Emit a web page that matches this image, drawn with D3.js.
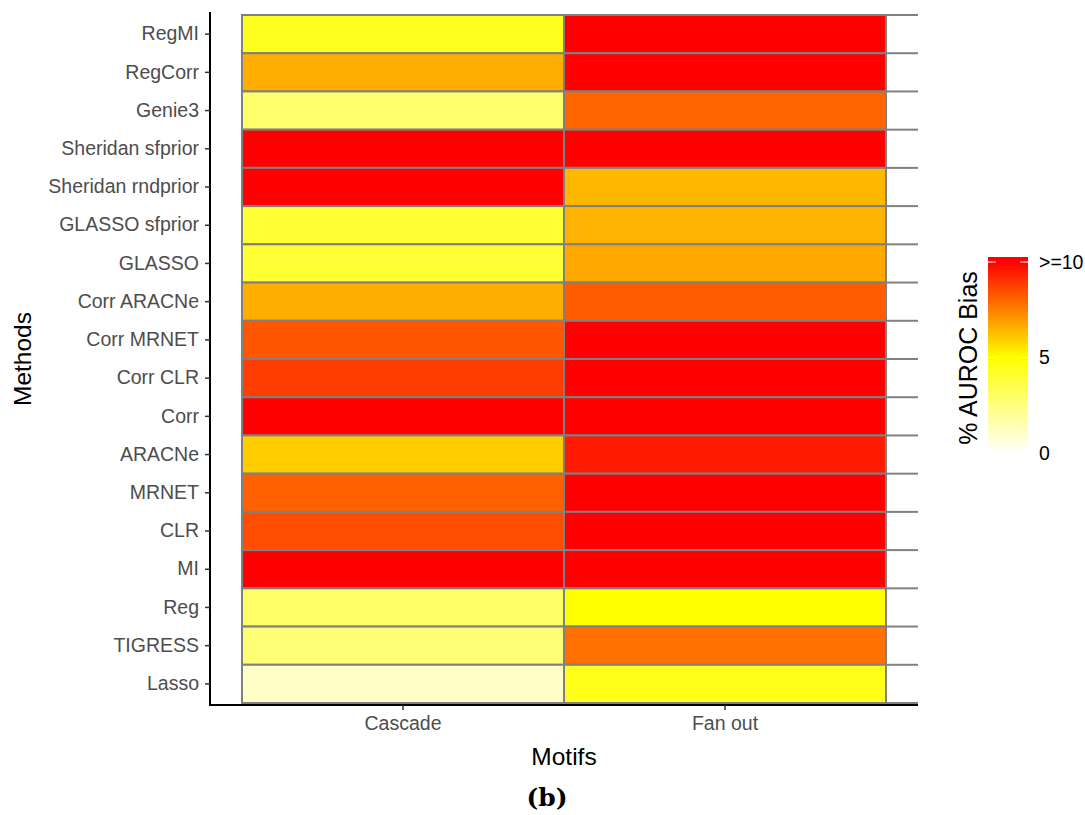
<!DOCTYPE html>
<html>
<head>
<meta charset="utf-8">
<script src="https://cdn.jsdelivr.net/npm/d3@7"></script>
<style>
  body { margin: 0; background: #fff; }
  svg { font-family: "Liberation Sans", Arial, sans-serif; }
</style>
</head>
<body>
<div id="chart"></div>
<script>
var methods = ['RegMI', 'RegCorr', 'Genie3', 'Sheridan sfprior', 'Sheridan rndprior', 'GLASSO sfprior',
  'GLASSO', 'Corr ARACNe', 'Corr MRNET', 'Corr CLR', 'Corr', 'ARACNe', 'MRNET', 'CLR', 'MI',
  'Reg', 'TIGRESS', 'Lasso'];
var motifs = ['Cascade', 'Fan out'];
// % AUROC bias, values above 10 are capped at 10
var cascade = [4.4, 6.6, 2.9, 10, 10, 4.0, 4.0, 6.6, 8.3, 8.8, 10, 6.0, 8.1, 8.5, 10, 3.0, 2.7, 1.1];
var fanout = [10, 10, 8.0, 10, 6.4, 6.5, 6.7, 8.2, 10, 10, 10, 9.5, 10, 10, 10, 5.0, 7.8, 4.5];
var legendTicks = [0, 5, 10];
var legendLabels = ['0', '5', '>=10'];

var width = 1085, height = 815;
var svg = d3.select('#chart').append('svg').attr('width', width).attr('height', height);

var x = d3.scaleBand().domain(motifs).range([242, 886]);
var y = d3.scaleBand().domain(methods).range([15, 703]);
var color = d3.scaleLinear().domain([0, 5, 10]).range(['#ffffff', '#ffff00', '#ff0000']).clamp(true);

var cells = [];
methods.forEach(function (m, i) {
  cells.push({ method: m, motif: motifs[0], value: cascade[i] });
  cells.push({ method: m, motif: motifs[1], value: fanout[i] });
});

// tiles
svg.append('g').selectAll('rect').data(cells).enter().append('rect')
  .attr('x', function (d) { return x(d.motif); })
  .attr('y', function (d) { return y(d.method); })
  .attr('width', x.bandwidth())
  .attr('height', y.bandwidth())
  .attr('fill', function (d) { return color(d.value); })
  .attr('stroke', '#808080')
  .attr('stroke-width', 2);

// row borders run on to the panel edge
var rowEdges = methods.map(function (m) { return y(m); }).concat([y.range()[1]]);
svg.append('g').selectAll('line').data(rowEdges).enter().append('line')
  .attr('x1', 886).attr('x2', 918)
  .attr('y1', function (d) { return d; }).attr('y2', function (d) { return d; })
  .attr('stroke', '#808080').attr('stroke-width', 2);

// axes
var yAxis = svg.append('g').attr('transform', 'translate(210,0)')
  .call(d3.axisLeft(y).tickSize(5).tickPadding(6));
yAxis.select('.domain').attr('d', 'M0,12V705').attr('stroke', '#000').attr('stroke-width', 2);
yAxis.selectAll('.tick line').attr('stroke', '#333').attr('stroke-width', 1.5);
yAxis.selectAll('.tick text').attr('fill', '#4d4d4d').style('font-size', '19.5px');

var xAxis = svg.append('g').attr('transform', 'translate(0,705)')
  .call(d3.axisBottom(x).tickSize(5).tickPadding(6));
xAxis.select('.domain').attr('d', 'M209,0H918').attr('stroke', '#000').attr('stroke-width', 2);
xAxis.selectAll('.tick line').attr('stroke', '#333').attr('stroke-width', 1.5);
xAxis.selectAll('.tick text').attr('fill', '#4d4d4d').style('font-size', '19.5px');

svg.append('text').attr('transform', 'translate(31,359) rotate(-90)')
  .attr('text-anchor', 'middle').style('font-size', '24.5px').text('Methods');
svg.append('text').attr('x', 564).attr('y', 765)
  .attr('text-anchor', 'middle').style('font-size', '24.5px').text('Motifs');

// legend
var lg = d3.scaleLinear().domain([0, 10]).range([453, 262]);
var defs = svg.append('defs');
var grad = defs.append('linearGradient').attr('id', 'lgGrad')
  .attr('x1', 0).attr('y1', 1).attr('x2', 0).attr('y2', 0);
d3.range(0, 10.01, 0.5).forEach(function (v) {
  grad.append('stop').attr('offset', (lg(0) - lg(v)) / (lg(0) - 257)).attr('stop-color', color(v));
});
grad.append('stop').attr('offset', 1).attr('stop-color', color(10));
svg.append('rect').attr('x', 988).attr('y', 257).attr('width', 40).attr('height', lg(0) - 257)
  .attr('fill', 'url(#lgGrad)');
var lgTicks = svg.append('g');
legendTicks.forEach(function (t, i) {
  if (t > 0) {
    lgTicks.append('line').attr('x1', 988).attr('x2', 996).attr('y1', lg(t)).attr('y2', lg(t))
      .attr('stroke', '#fff').attr('stroke-width', 1);
    lgTicks.append('line').attr('x1', 1020).attr('x2', 1028).attr('y1', lg(t)).attr('y2', lg(t))
      .attr('stroke', '#fff').attr('stroke-width', 1);
  }
  lgTicks.append('text').attr('x', 1039).attr('y', lg(t)).attr('dy', '0.35em')
    .style('font-size', '19.5px').text(legendLabels[i]);
});
svg.append('text').attr('transform', 'translate(977,358) rotate(-90)')
  .attr('text-anchor', 'middle').style('font-size', '25px').text('% AUROC Bias');

// caption
svg.append('text').attr('x', 547).attr('y', 806).attr('text-anchor', 'middle')
  .style('font-family', '"DejaVu Serif", "Liberation Serif", serif').style('font-weight', 'bold')
  .style('font-size', '25px').text('(b)');
</script>
</body>
</html>
